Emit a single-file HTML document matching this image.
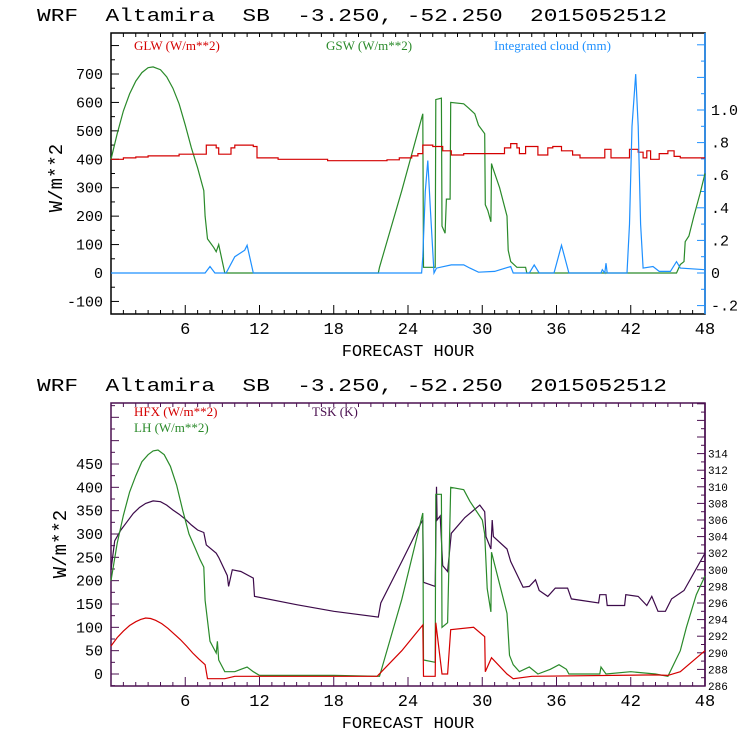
<!DOCTYPE html>
<html><head><meta charset="utf-8"><style>
html,body{margin:0;padding:0;background:#fff;}
svg{display:block;}
text{font-family:"Liberation Mono",monospace;}
.ttl{white-space:pre;}
.lg{font-family:"Liberation Serif",serif;font-size:13px;}
</style></head><body>
<svg id="chart" width="740" height="740" viewBox="0 0 740 740" xmlns="http://www.w3.org/2000/svg">
<text class="ttl" xml:space="preserve" x="37" y="21" font-size="18" textLength="630" lengthAdjust="spacingAndGlyphs">WRF  Altamira  SB  -3.250, -52.250  2015052512</text>
<text class="ttl" xml:space="preserve" x="37" y="391" font-size="18" textLength="630" lengthAdjust="spacingAndGlyphs">WRF  Altamira  SB  -3.250, -52.250  2015052512</text>
<g id="top"></g>
<g id="bot"></g>
</svg>
<script>
// ---- data: hours / values ----
const xTickHours=[6,12,18,24,30,36,42,48];
const topLeftTicks=[-100,0,100,200,300,400,500,600,700];
const topRightTicks=[-0.2,0,0.2,0.4,0.6,0.8,1.0];
const topRightLabels=['-.2','0','.2','.4','.6','.8','1.0'];
const botLeftTicks=[0,50,100,150,200,250,300,350,400,450];
const botRightTicks=[286,288,290,292,294,296,298,300,302,304,306,308,310,312,314];

const glwHours=[0,1,2,3,5.5,7.7,8.5,8.7,9.7,10,11.5,11.8,13.5,17.5,22.3,23.3,24.3,24.8,25.2,26,26.8,27.5,28.5,31.8,32.3,32.8,33,33.5,34.5,35.3,35.7,36.4,37.3,37.9,39.9,40.4,41.9,42.6,43,43.3,43.6,44.3,45,45.5,46,46.5,48];
const glwValues=[400,405,408,412,418,450,440,418,440,450,445,405,400,395,398,405,412,420,450,445,430,415,420,440,455,440,420,445,415,440,445,430,415,405,435,405,435,425,405,430,400,420,430,410,405,405,405];

const gswHours=[0,0.5,1,1.5,2,2.5,3,3.4,4,4.5,5,5.5,6,6.5,7,7.5,7.6,7.8,8.3,8.5,8.7,9.2,21.6,21.7,23.5,25.2,25.25,26.2,26.25,26.7,26.75,27.0,27.1,27.4,27.45,28.5,28.9,29.4,29.7,30.2,30.25,30.45,30.7,30.75,30.85,31.4,32.0,32.1,32.3,32.8,33.5,33.6,45.7,46.0,46.3,46.4,46.7,47.1,47.6,48];
const gswValues=[400,490,570,630,675,705,722,725,715,690,650,595,520,440,370,290,200,120,90,75,100,0,0,20,290,560,20,20,610,615,165,140,260,260,600,595,580,560,520,490,240,220,180,385,370,300,200,80,40,20,20,0,0,30,40,110,130,200,280,350];

const cloudHours=[0,7.6,8.0,8.4,9.3,10.0,10.8,11.0,11.5,25.1,25.2,25.4,25.6,25.8,26.1,26.3,27.5,28.5,29.0,29.7,31.0,32.3,32.5,33.8,34.2,34.6,35.8,36.4,37.0,39.6,39.7,39.9,40.0,40.1,41.7,41.9,42.1,42.4,42.6,42.8,43.0,43.8,44.3,45.2,45.7,46.0,48];
const cloudValues=[0,0,0.04,0,0,0.1,0.14,0.17,0,0,0.1,0.5,0.69,0.4,0,0.03,0.05,0.05,0.03,0.005,0.01,0.04,0,0,0.05,0,0,0.17,0,0,0.02,0,0.06,0,0,0.3,0.9,1.22,0.9,0.3,0.03,0.04,0.01,0.01,0.07,0.03,0.02];

const lhHours=[0,0.5,1,1.5,2,2.5,3,3.4,3.8,4.3,4.8,5.3,5.8,6.3,6.8,7.2,7.5,7.6,8.0,8.5,8.6,8.7,9.2,10,10.5,11,11.5,12,18,21.7,23.5,25.2,25.25,26.2,26.25,26.7,26.75,27.2,27.45,28.5,29,30,30.2,30.4,30.7,30.75,32,32.2,32.5,33,33.8,34.5,35.5,36.2,36.8,37,39.5,39.6,40,42,44,45,46,46.5,47.3,48];
const lhValues=[200,280,340,390,425,455,470,478,480,470,445,405,350,300,270,245,229,158,70,45,70,30,5,5,10,15,5,-3,-3,-5,160,345,30,25,385,385,100,110,400,395,370,330,300,183,133,261,130,40,20,5,15,0,10,20,10,0,0,15,0,5,0,-5,50,100,170,210];

const hfxHours=[0,0.5,1,1.5,2,2.4,2.8,3.2,3.6,4.1,4.6,5.1,5.6,6.1,6.6,7.1,7.6,7.8,8.6,9.2,10,12,21.5,23.5,25.2,25.25,26.2,26.25,26.75,27.2,27.45,29.3,30.2,30.25,30.75,32,32.5,34,44,45,46,48];
const hfxValues=[60,78,92,104,112,117,120,119,115,108,98,86,74,60,45,32,20,-10,-10,-10,-5,-5,-5,50,105,-5,-5,110,0,0,95,100,80,5,35,0,-10,-5,-2,-3,5,50];

const tskHours=[0,0.3,0.8,1.3,1.8,2.3,2.8,3.4,4,4.5,5,5.5,6,6.5,7,7.5,7.7,8.5,8.7,9.4,9.5,9.8,10.5,11.5,11.6,15,18,21.6,21.8,23.5,25,25.2,25.25,26.2,26.3,26.35,26.6,26.8,27.2,27.5,28.6,29.8,30.2,30.3,30.7,30.8,30.9,32,32.3,33.3,33.8,34.3,34.6,35.3,35.9,36.9,37.2,39.4,39.5,40,40.1,41.5,41.6,42.6,43.3,43.7,44.2,44.8,45.3,46.3,48];
const tskValues=[300,303.5,304.8,305.8,306.8,307.5,308,308.3,308.2,307.8,307.2,306.7,306.1,305.4,304.8,304.5,303,302,301.5,299.3,298,300,299.8,299,296.8,295.8,295,294.3,296,301,305.5,306,298.5,298,310,306,306.5,300.5,299.8,304.4,306.3,307.8,307,304,302.5,306,304,302.5,301,297.9,298,298.8,297.5,296.8,297.8,297.8,296.5,296,297,297,295.7,295.7,297,296.8,295.7,296.8,295,295,296.5,297.5,302];

const NS='http://www.w3.org/2000/svg';
function mk(parent,tag,attrs){const e=document.createElementNS(NS,tag);for(const k in attrs)e.setAttribute(k,attrs[k]);parent.appendChild(e);return e;}
const X0=111,X1=705;
function xs(h){return X0+(X1-X0)*h/48;}

function linePath(hours,vals,yf){return hours.map((h,i)=>(i?'L':'M')+xs(h).toFixed(1)+' '+yf(vals[i]).toFixed(1)).join(' ');}
function stepPath(hours,vals,yf){let d='';hours.forEach((h,i)=>{const x=xs(h).toFixed(1),y=yf(vals[i]).toFixed(1);if(i===0)d+='M'+x+' '+y;else{d+=' L'+x+' '+yf(vals[i-1]).toFixed(1)+' L'+x+' '+y;}});return d;}

function frame(g,top,bot,color,rightColor){
  mk(g,'rect',{x:X0,y:top,width:X1-X0,height:bot-top,fill:'none',stroke:color,'stroke-width':1.5});
  const r=mk(g,'line',{x1:X1,y1:top,x2:X1,y2:bot,stroke:rightColor,'stroke-width':1.5});
  
  
  for(let h=1;h<48;h++){
    const x=xs(h),len=h%6===0?9:4;
    mk(g,'line',{x1:x,y1:bot,x2:x,y2:bot-len,stroke:color});
    mk(g,'line',{x1:x,y1:top,x2:x,y2:top+4,stroke:color});
  }
  xTickHours.forEach(h=>{
    const t=mk(g,'text',{x:xs(h),y:bot+20,'font-size':17,'text-anchor':'middle',fill:'#000'});
    
    
    t.textContent=h;
  });
  const xt=mk(g,'text',{x:408,y:bot+42,'font-size':17,'text-anchor':'middle',fill:'#000'});
  
  
  xt.textContent='FORECAST HOUR';
}
function addPath(g,d,color,name){
  const p=mk(g,'path',{d:d,fill:'none',stroke:color,'stroke-width':1.2});
  
  
}
function legend(g,x,y,txt,color,name){
  const t=mk(g,'text',{x:x,y:y,fill:color,class:'lg'});
  
  
  t.textContent=txt;
}

// ---- top panel ----
(function(){
  const g=document.getElementById('top');
  const T=33,B=314;
  const yl=v=>273-v*0.2843;
  const yr=v=>273-v*163;
  frame(g,T,B,'#000','#1e90ff');
  for(let v=-150;v<=850;v+=50){const y=yl(v);if(y<T||y>B)continue;mk(g,'line',{x1:X0,y1:y,x2:X0+(v%100===0?8:4),y2:y,stroke:'#000'});}
  topLeftTicks.forEach(v=>{const t=mk(g,'text',{x:103,y:yl(v)+5,'font-size':15,'text-anchor':'end'});
    
    
    t.textContent=v;});
  for(let v=-0.2;v<=1.6;v+=0.1){const y=yr(v);if(y<T||y>B)continue;const maj=Math.round(v*10)%2===0;mk(g,'line',{x1:X1,y1:y,x2:X1-(maj?8:4),y2:y,stroke:'#1e90ff'});}
  topRightTicks.forEach((v,i)=>{const t=mk(g,'text',{x:711,y:yr(v)+5,'font-size':15});
    
    
    t.textContent=topRightLabels[i];});
  const yt=mk(g,'text',{x:0,y:0,'font-size':19,transform:'translate(62,178) rotate(-90)','text-anchor':'middle'});
  
  
  yt.textContent='W/m**2';
  legend(g,134,50,'GLW (W/m**2)','#d40000','legend-glw');
  legend(g,326,50,'GSW (W/m**2)','#2a8a2a','legend-gsw');
  legend(g,494,50,'Integrated cloud (mm)','#1e90ff','legend-cloud');
  addPath(g,linePath(gswHours,gswValues,yl),'#2a8a2a','gsw-line');
  addPath(g,stepPath(glwHours,glwValues,yl),'#d40000','glw-line');
  addPath(g,linePath(cloudHours,cloudValues,yr),'#1e90ff','cloud-line');
})();

// ---- bottom panel ----
(function(){
  const g=document.getElementById('bot');
  const T=403,B=686;
  const yl=v=>674-v*0.4667;
  const yr=v=>686-(v-286)*8.3;
  frame(g,T,B,'#4b1050','#4b1050');
  for(let v=-25;v<=575;v+=25){const y=yl(v);if(y<T||y>B)continue;mk(g,'line',{x1:X0,y1:y,x2:X0+(v%50===0?8:4),y2:y,stroke:'#4b1050'});}
  botLeftTicks.forEach(v=>{const t=mk(g,'text',{x:103,y:yl(v)+5,'font-size':15,'text-anchor':'end'});
    
    
    t.textContent=v;});
  for(let v=286;v<=320;v++){const y=yr(v);if(y<T||y>B)continue;mk(g,'line',{x1:X1,y1:y,x2:X1-(v%2===0?8:4),y2:y,stroke:'#4b1050'});}
  botRightTicks.forEach(v=>{const t=mk(g,'text',{x:708,y:yr(v)+4,'font-size':11});
    
    
    t.textContent=v;});
  const yt=mk(g,'text',{x:0,y:0,'font-size':19,transform:'translate(66,544) rotate(-90)','text-anchor':'middle'});
  
  
  yt.textContent='W/m**2';
  legend(g,134,416,'HFX (W/m**2)','#d40000','legend-hfx');
  legend(g,134,432,'LH  (W/m**2)','#2a8a2a','legend-lh');
  legend(g,312,416,'TSK (K)','#4b1050','legend-tsk');
  addPath(g,linePath(tskHours,tskValues,yr),'#3c0a4a','tsk-line');
  addPath(g,linePath(lhHours,lhValues,yl),'#2a8a2a','lh-line');
  addPath(g,linePath(hfxHours,hfxValues,yl),'#d40000','hfx-line');
})();
</script>
</body></html>
